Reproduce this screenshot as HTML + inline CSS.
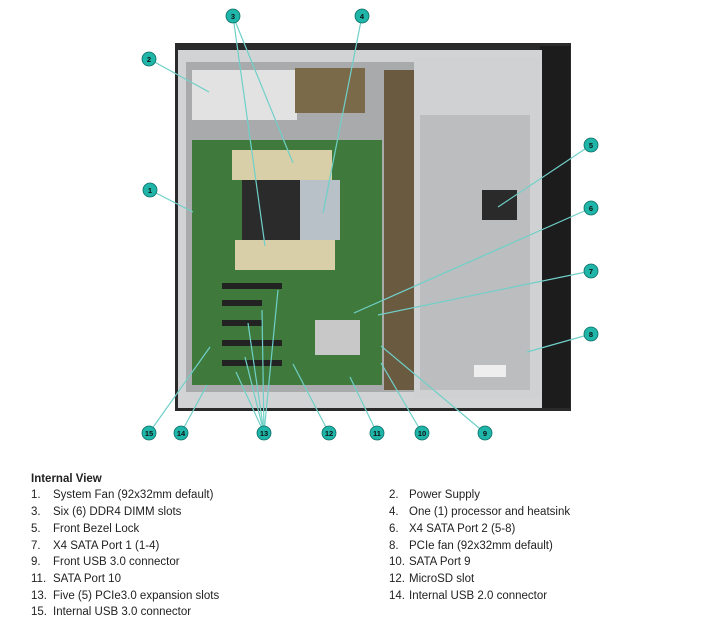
<!DOCTYPE html>
<html><head><meta charset="utf-8"><style>
body{margin:0;background:#fff;width:712px;height:629px;overflow:hidden;font-family:"Liberation Sans",sans-serif;}
svg{position:absolute;left:0;top:0}
.t{position:absolute;font-size:11.5px;color:#222;white-space:nowrap}
</style></head><body>
<svg width="712" height="460" viewBox="0 0 712 460">
<rect x="175" y="43" width="396" height="368" fill="#2a2a2a"/>
<rect x="540" y="46" width="30" height="362" fill="#1c1c1c"/>
<rect x="178" y="50" width="364" height="358" fill="#d2d3d5"/>
<rect x="186" y="62" width="228" height="330" fill="#a9aaac"/>
<rect x="192" y="70" width="105" height="50" fill="#e2e2e2"/>
<rect x="295" y="68" width="70" height="45" fill="#7a6a4a"/>
<rect x="192" y="140" width="190" height="245" fill="#3f7a3c"/>
<rect x="232" y="150" width="100" height="30" fill="#d8cfa8"/>
<rect x="235" y="240" width="100" height="30" fill="#d8cfa8"/>
<rect x="242" y="180" width="90" height="60" fill="#2b2b2b"/>
<rect x="300" y="180" width="40" height="60" fill="#b8c0c8"/>
<rect x="315" y="320" width="45" height="35" fill="#c8c8c8"/>
<rect x="222" y="283" width="60" height="6" fill="#222"/>
<rect x="222" y="300" width="40" height="6" fill="#222"/>
<rect x="222" y="320" width="40" height="6" fill="#222"/>
<rect x="222" y="340" width="60" height="6" fill="#222"/>
<rect x="222" y="360" width="60" height="6" fill="#222"/>
<rect x="384" y="70" width="30" height="320" fill="#6a5a40"/>
<rect x="414" y="58" width="126" height="340" fill="#d0d1d3"/>
<rect x="420" y="115" width="110" height="275" fill="#bcbdbf"/>
<rect x="482" y="190" width="35" height="30" fill="#2a2a2a"/>
<rect x="474" y="365" width="32" height="12" fill="#eee"/>
<g stroke="#6fd0c8" stroke-width="1.2" fill="none">
<line x1="233" y1="16" x2="293" y2="163"/><line x1="233" y1="16" x2="265" y2="246"/>
<line x1="362" y1="16" x2="323" y2="213"/>
<line x1="149" y1="59" x2="209" y2="92"/>
<line x1="150" y1="190" x2="193" y2="212"/>
<line x1="591" y1="145" x2="498" y2="207"/>
<line x1="591" y1="208" x2="354" y2="313"/>
<line x1="591" y1="271" x2="378" y2="315"/>
<line x1="591" y1="334" x2="527" y2="352"/>
<line x1="485" y1="433" x2="381" y2="346"/>
<line x1="422" y1="433" x2="381" y2="363"/>
<line x1="377" y1="433" x2="350" y2="377"/>
<line x1="329" y1="433" x2="293" y2="364"/>
<line x1="264" y1="433" x2="236" y2="372"/><line x1="264" y1="433" x2="245" y2="357"/>
<line x1="264" y1="433" x2="248" y2="323"/><line x1="264" y1="433" x2="262" y2="310"/>
<line x1="264" y1="433" x2="278" y2="290"/>
<line x1="181" y1="433" x2="207" y2="385"/>
<line x1="149" y1="433" x2="210" y2="347"/>
</g>
<g fill="#1fb5a8" stroke="#0d6e66" stroke-width="0.8">
<circle cx="233" cy="16" r="7"/><circle cx="362" cy="16" r="7"/><circle cx="149" cy="59" r="7"/>
<circle cx="150" cy="190" r="7"/><circle cx="591" cy="145" r="7"/><circle cx="591" cy="208" r="7"/>
<circle cx="591" cy="271" r="7"/><circle cx="591" cy="334" r="7"/><circle cx="149" cy="433" r="7"/>
<circle cx="181" cy="433" r="7"/><circle cx="264" cy="433" r="7"/><circle cx="329" cy="433" r="7"/>
<circle cx="377" cy="433" r="7"/><circle cx="422" cy="433" r="7"/><circle cx="485" cy="433" r="7"/>
</g>
<g font-family="Liberation Sans" font-size="7.5" font-weight="bold" fill="#111" text-anchor="middle">
<text x="233" y="19">3</text><text x="362" y="19">4</text><text x="149" y="62">2</text>
<text x="150" y="193">1</text><text x="591" y="148">5</text><text x="591" y="211">6</text>
<text x="591" y="274">7</text><text x="591" y="337">8</text><text x="149" y="436">15</text>
<text x="181" y="436">14</text><text x="264" y="436">13</text><text x="329" y="436">12</text>
<text x="377" y="436">11</text><text x="422" y="436">10</text><text x="485" y="436">9</text>
</g>
</svg>
<div class="t" style="left:31px;top:473px;font-weight:bold">Internal View</div>
<div class="t" style="left:31px;top:489px">1.</div><div class="t" style="left:53px;top:489px">System Fan (92x32mm default)</div>
<div class="t" style="left:31px;top:506px">3.</div><div class="t" style="left:53px;top:506px">Six (6) DDR4 DIMM slots</div>
<div class="t" style="left:31px;top:523px">5.</div><div class="t" style="left:53px;top:523px">Front Bezel Lock</div>
<div class="t" style="left:31px;top:540px">7.</div><div class="t" style="left:53px;top:540px">X4 SATA Port 1 (1-4)</div>
<div class="t" style="left:31px;top:556px">9.</div><div class="t" style="left:53px;top:556px">Front USB 3.0 connector</div>
<div class="t" style="left:31px;top:573px">11.</div><div class="t" style="left:53px;top:573px">SATA Port 10</div>
<div class="t" style="left:31px;top:590px">13.</div><div class="t" style="left:53px;top:590px">Five (5) PCIe3.0 expansion slots</div>
<div class="t" style="left:31px;top:606px">15.</div><div class="t" style="left:53px;top:606px">Internal USB 3.0 connector</div>
<div class="t" style="left:389px;top:489px">2.</div><div class="t" style="left:409px;top:489px">Power Supply</div>
<div class="t" style="left:389px;top:506px">4.</div><div class="t" style="left:409px;top:506px">One (1) processor and heatsink</div>
<div class="t" style="left:389px;top:523px">6.</div><div class="t" style="left:409px;top:523px">X4 SATA Port 2 (5-8)</div>
<div class="t" style="left:389px;top:540px">8.</div><div class="t" style="left:409px;top:540px">PCIe fan (92x32mm default)</div>
<div class="t" style="left:389px;top:556px">10.</div><div class="t" style="left:409px;top:556px">SATA Port 9</div>
<div class="t" style="left:389px;top:573px">12.</div><div class="t" style="left:409px;top:573px">MicroSD slot</div>
<div class="t" style="left:389px;top:590px">14.</div><div class="t" style="left:409px;top:590px">Internal USB 2.0 connector</div>
</body></html>
